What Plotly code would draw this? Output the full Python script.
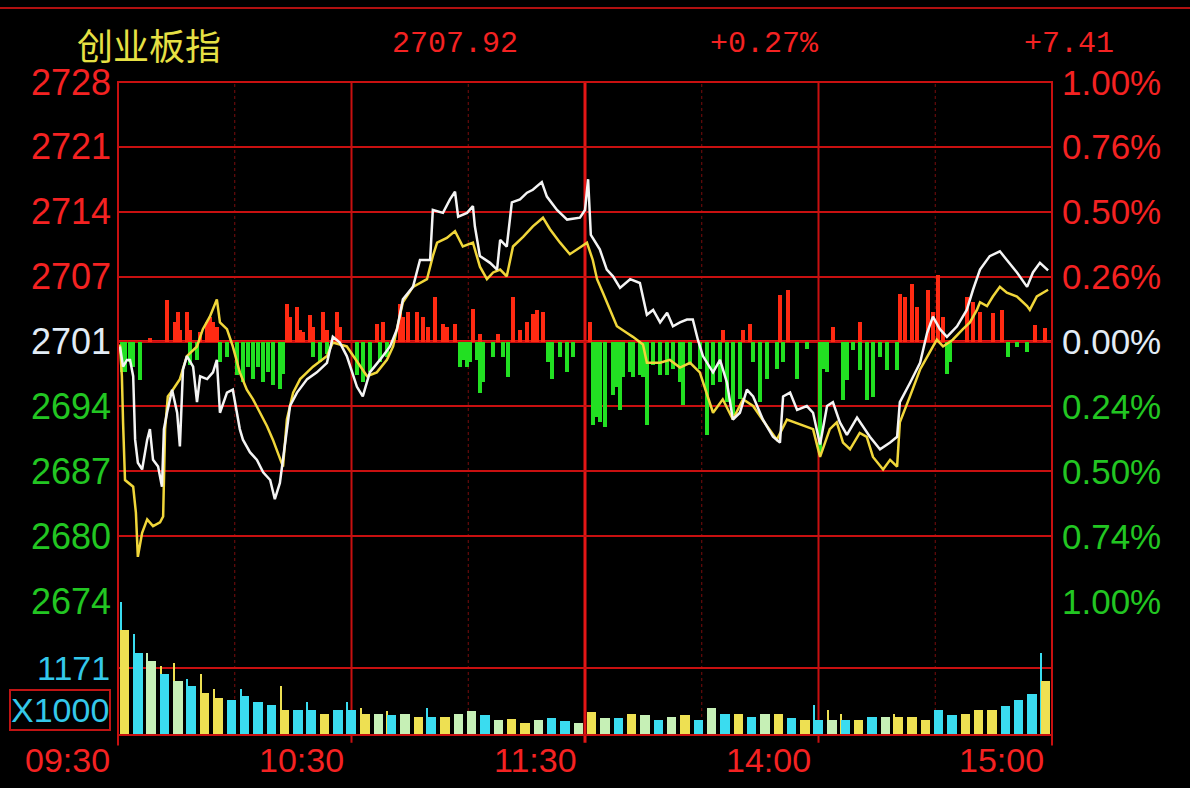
import plotly.graph_objects as go

# ---------------- data ----------------
title_name = "创业板指"
last_price = 2707.92
pct_change = "+0.27%"
abs_change = "+7.41"
prev_close = 2700.51

price_levels = [2727.52, 2720.76, 2714.01, 2707.26, 2700.51, 2693.76, 2687.01, 2680.26, 2673.51]
price_labels = ["2728", "2721", "2714", "2707", "2701", "2694", "2687", "2680", "2674"]
pct_labels = ["1.00%", "0.76%", "0.50%", "0.26%", "0.00%", "0.24%", "0.50%", "0.74%", "1.00%"]

time_ticks = [0, 60, 120, 180, 240]
time_labels = ["09:30", "10:30", "11:30", "14:00", "15:00"]
half_hours = [30, 90, 150, 210]

vol_max = 2342
vol_label = "1171"

# white line: index (minutes since open, price)
white_t = [0.5, 1.3, 2.3, 3.1, 3.9, 4.4, 5.1, 6.2, 7.5, 8.2,
           9.0, 10.3, 11.3, 11.8, 12.6, 13.9, 15.2, 15.9, 16.7, 17.7,
           19.3, 20.3, 21.1, 22.9, 24.4, 25.4, 26.2, 28.0, 29.5, 30.6,
           31.3, 32.1, 33.9, 35.7, 37.3, 39.1, 40.3, 41.6, 42.9, 44.2,
           46.0, 48.6, 51.1, 53.7, 55.2, 57.0, 58.8, 61.4, 62.9, 64.7,
           67.3, 69.9, 71.7, 73.2, 75.8, 77.6, 80.2, 80.9, 83.5, 85.3,
           86.6, 87.4, 89.7, 91.2, 91.7, 93.0, 95.6, 97.4, 98.2, 99.9,
           101.2, 103.3, 105.1, 106.6, 108.9, 110.2, 112.8, 115.4, 118.7, 120.0,
           120.8, 121.5, 123.8, 125.6, 127.2, 129.0, 131.6, 134.1, 135.9, 137.5,
           139.3, 141.1, 142.6, 144.4, 146.2, 147.7, 149.0, 150.3, 152.9, 154.7,
           156.5, 158.0, 159.8, 161.6, 163.2, 165.7, 168.3, 170.1, 170.9, 172.7,
           174.5, 177.0, 178.6, 180.4, 182.2, 183.7, 185.5, 187.3, 189.9, 191.4,
           193.2, 195.8, 198.4, 200.2, 200.9, 203.5, 206.1, 207.9, 209.4, 211.2,
           213.0, 215.6, 218.1, 219.7, 221.5, 224.0, 226.6, 228.4, 231.0, 233.6,
           235.1, 236.9, 239.0]
white_p = [2700.0, 2697.9, 2698.6, 2698.6, 2696.9, 2690.3, 2687.9, 2687.2, 2690.3, 2691.4,
           2688.2, 2687.5, 2685.4, 2691.4, 2693.1, 2695.5, 2693.1, 2689.6, 2697.6, 2699.0,
           2697.9, 2694.2, 2696.9, 2696.6, 2697.3, 2698.6, 2693.1, 2695.2, 2695.5, 2693.1,
           2691.4, 2690.3, 2689.0, 2688.2, 2686.9, 2686.1, 2684.1, 2685.8, 2689.6, 2693.8,
           2695.2, 2696.6, 2697.3, 2698.3, 2701.0, 2700.4, 2699.0, 2695.8, 2694.8, 2697.3,
           2698.6, 2700.0, 2701.8, 2704.9, 2706.2, 2709.0, 2709.0, 2714.2, 2713.9, 2715.3,
           2716.1, 2713.5, 2713.9, 2714.6, 2712.5, 2709.4, 2708.7, 2708.0, 2711.1, 2710.4,
           2715.0, 2715.3, 2716.0, 2716.3, 2717.1, 2715.6, 2714.2, 2713.2, 2713.4, 2714.2,
           2717.4, 2711.6, 2710.1, 2708.0, 2707.3, 2706.1, 2707.0, 2706.6, 2703.3, 2703.8,
           2702.5, 2703.5, 2702.1, 2702.5, 2702.8, 2702.8, 2700.7, 2699.0, 2697.3, 2698.6,
           2696.2, 2692.4, 2693.1, 2695.5, 2694.8, 2692.4, 2690.6, 2690.0, 2694.8, 2695.2,
           2693.4, 2693.8, 2693.1, 2689.8, 2693.8, 2694.2, 2692.1, 2690.8, 2692.6, 2691.7,
           2690.6, 2689.3, 2690.0, 2690.6, 2694.2, 2696.2, 2698.3, 2701.4, 2703.1, 2701.8,
           2701.0, 2702.1, 2703.8, 2705.9, 2708.0, 2709.4, 2709.9, 2709.0, 2707.7, 2706.2,
           2707.7, 2708.7, 2707.92]

# yellow line
yellow_t = [0.5, 1.0, 1.3, 1.8, 3.9, 4.6, 5.1, 6.2, 7.5, 9.0,
            10.8, 11.6, 12.1, 12.8, 14.1, 15.9, 17.7, 20.3, 21.8, 23.6,
            25.4, 26.2, 28.0, 29.5, 31.3, 33.1, 34.7, 36.5, 38.3, 39.8,
            41.6, 42.4, 43.4, 45.0, 46.8, 50.1, 53.7, 55.2, 58.8, 62.2,
            64.0, 66.5, 69.1, 70.7, 73.2, 75.8, 79.4, 80.9, 82.0, 84.5,
            86.6, 88.6, 91.2, 93.0, 94.8, 96.4, 98.2, 99.9, 101.5, 104.1,
            106.6, 109.2, 111.0, 113.6, 116.1, 118.7, 120.5, 122.0, 123.1, 124.6,
            126.4, 128.2, 130.8, 132.3, 134.9, 135.9, 139.3, 141.8, 144.4, 147.0,
            149.5, 151.3, 152.9, 155.4, 158.0, 160.6, 163.2, 166.8, 169.3, 171.9,
            175.2, 178.6, 180.4, 182.9, 184.7, 186.3, 188.1, 190.6, 192.4, 194.0,
            196.6, 198.4, 200.2, 200.9, 203.5, 206.1, 208.6, 210.4, 212.0, 214.5,
            217.1, 218.9, 220.7, 221.5, 223.3, 224.8, 226.6, 228.4, 231.0, 233.6,
            234.3, 236.1, 239.0]
yellow_p = [2700.2, 2696.9, 2692.1, 2686.1, 2685.4, 2682.7, 2678.1, 2680.6, 2682.0, 2681.3,
            2681.7, 2682.3, 2691.4, 2694.8, 2695.5, 2696.6, 2699.0, 2700.0, 2701.8, 2703.1,
            2704.9, 2702.5, 2701.8, 2700.0, 2697.3, 2695.5, 2694.5, 2693.1, 2691.7, 2690.3,
            2688.5, 2687.5, 2692.4, 2695.2, 2696.6, 2697.9, 2699.0, 2700.4, 2700.0, 2697.9,
            2696.9, 2697.3, 2698.6, 2700.0, 2704.6, 2706.2, 2707.0, 2709.4, 2710.8, 2711.3,
            2712.0, 2710.4, 2710.8, 2708.3, 2707.0, 2707.7, 2708.0, 2707.3, 2710.4, 2711.4,
            2712.5, 2713.4, 2712.2, 2710.8, 2709.6, 2710.3, 2710.8, 2709.0, 2707.0, 2705.6,
            2703.8, 2702.1, 2701.4, 2701.0, 2700.2, 2698.3, 2698.3, 2698.6, 2697.8, 2698.3,
            2697.3, 2695.2, 2693.1, 2694.5, 2692.4, 2694.5, 2693.8, 2691.7, 2690.3, 2692.4,
            2691.9, 2691.4, 2688.5, 2691.4, 2692.1, 2690.0, 2689.3, 2691.0, 2690.6, 2688.5,
            2687.2, 2688.2, 2687.5, 2692.1, 2694.8, 2697.6, 2699.4, 2700.7, 2700.0, 2700.7,
            2701.8, 2702.5, 2703.8, 2704.6, 2704.2, 2705.2, 2706.2, 2705.6, 2705.2, 2704.2,
            2703.8, 2705.2, 2705.9]

# red / green breadth bars (arbitrary units)
up_t = [8.2, 12.6, 14.6, 15.4, 15.9, 17.7, 18.5, 21.0, 22.9, 23.6,
        24.4, 25.4, 43.4, 44.2, 46.0, 46.8, 47.5, 49.3, 50.1, 52.7,
        53.7, 56.3, 57.0, 66.5, 68.1, 72.5, 73.2, 74.5, 76.8, 78.4,
        79.6, 81.4, 83.5, 84.5, 86.6, 91.2, 93.0, 97.6, 101.5, 103.3,
        105.1, 106.6, 107.7, 109.2, 121.3, 155.4, 160.6, 162.4, 170.1, 172.1,
        183.7, 190.6, 200.9, 202.2, 204.0, 205.3, 208.1, 209.4, 210.7, 212.0,
        218.1, 219.7, 221.5, 224.8, 227.1, 235.6, 238.2]
up_v = [4, 42, 20, 30, 12, 30, 12, 10, 20, 25,
        20, 15, 38, 25, 35, 12, 10, 27, 15, 30,
        12, 30, 15, 18, 20, 38, 25, 30, 30, 25,
        15, 45, 18, 15, 18, 33, 8, 8, 45, 12,
        20, 28, 32, 30, 20, 12, 12, 18, 47, 52,
        15, 20, 48, 45, 58, 35, 52, 30, 67, 25,
        45, 40, 30, 29, 32, 17, 14]
dn_t = [1.0, 1.8, 3.1, 3.9, 5.7, 18.5, 20.3, 26.2, 28.0, 30.6,
        32.1, 33.4, 34.7, 36.0, 37.3, 38.5, 39.8, 41.6, 42.4, 50.1,
        51.9, 53.7, 61.4, 62.9, 64.7, 67.3, 69.1, 87.9, 88.6, 89.7,
        90.4, 92.2, 93.0, 93.8, 96.4, 98.9, 100.2, 110.5, 111.5, 113.6,
        115.4, 116.9, 122.0, 123.1, 123.8, 125.1, 127.2, 128.2, 129.0, 129.8,
        131.6, 132.3, 134.1, 134.9, 135.9, 137.5, 139.3, 141.1, 142.6, 144.4,
        145.2, 147.0, 149.5, 151.3, 152.9, 154.7, 156.5, 158.0, 159.8, 163.2,
        164.9, 166.7, 169.3, 170.9, 174.5, 177.1, 180.4, 181.1, 182.2, 186.3,
        187.3, 188.8, 190.6, 192.4, 194.0, 195.8, 197.6, 200.2, 213.0, 213.8,
        228.7, 231.0, 233.6]
dn_v = [-30, -30, -20, -25, -38, -23, -18, -20, -15, -33,
        -40, -25, -37, -25, -40, -30, -43, -47, -32, -15,
        -20, -12, -33, -40, -30, -20, -15, -25, -18, -25,
        -20, -18, -51, -40, -15, -15, -35, -20, -37, -15,
        -30, -15, -83, -75, -80, -85, -53, -45, -68, -35,
        -30, -35, -33, -35, -83, -23, -33, -33, -27, -40,
        -63, -23, -27, -93, -43, -40, -60, -73, -57, -20,
        -60, -37, -27, -20, -37, -7, -113, -27, -30, -58,
        -38, -8, -28, -58, -55, -15, -28, -28, -32, -20,
        -15, -5, -10]

# volume (x1000), 70 bars across the session
vol = [1830, 1440, 1300, 1060, 940, 850, 730, 640, 620, 675,
       585, 530, 445, 445, 445, 375, 445, 445, 375, 375,
       355, 375, 320, 320, 320, 375, 425, 355, 265, 285,
       215, 265, 300, 250, 215, 410, 300, 300, 375, 355,
       265, 320, 355, 265, 480, 375, 375, 320, 375, 375,
       300, 265, 265, 265, 265, 265, 320, 320, 320, 320,
       265, 445, 355, 375, 445, 445, 500, 620, 710, 940]
vol_spike = [2320, 1770, 1440, 1200, 1260, 975, 1060, 800, 0, 800,
             0, 0, 850, 0, 585, 0, 0, 585, 480, 0,
             425, 0, 0, 480, 0, 0, 0, 0, 0, 0,
             0, 0, 0, 0, 0, 0, 0, 0, 0, 0,
             0, 0, 0, 0, 0, 0, 0, 0, 0, 0,
             0, 0, 530, 445, 375, 0, 0, 0, 375, 0,
             0, 0, 0, 0, 0, 0, 0, 0, 0, 1440]
vol_col = ("YCGCGCYYCC" "CCYCCYCCYG" "CGYCYGGCGY" "YGCCGYGCYG"
           "CGYCGCYCGY" "CYCGCYCGYY" "YCCYYYCCCY")
spike_col = ("CCGYYCYYCC" "CCYCCYCCYG" "YGYCYGGCGY" "YGCCGYGCYG"
             "CGYCGCYCGY" "CYCYYYCGYY" "YCCYYYCCCC")

# ---------------- style ----------------
BG = "#000000"
RED = "#f42222"
GRID = "#c81010"
GREEN = "#22c622"
WHITE = "#e2ecf6"
CYAN = "#34c8ea"
YEL = "#e6e044"
palette = {"C": "#3adcf0", "Y": "#eee052", "G": "#c6f0b6"}
label_cols = [RED] * 4 + [WHITE] + [GREEN] * 4
NUMFONT = "Liberation Sans, Arial, sans-serif"
MONO = "Liberation Mono, DejaVu Sans Mono, monospace"

PRICE_DOM = [0.2052, 1.0]
VOL_DOM = [0.0, 0.2052]

n_slots = len(vol)
slot = 240.0 / n_slots
vol_t = [(k + 0.5) * slot for k in range(n_slots)]
spike_t = [t - 0.3 * slot for t in vol_t]

fig = go.Figure()

# breadth bars (primary y, drawn underneath the price lines)
fig.add_trace(go.Bar(x=up_t, y=up_v, width=1.0, marker=dict(color="#ff2a12", line=dict(width=0)),
                     xaxis="x", yaxis="y", showlegend=False, hoverinfo="skip"))
fig.add_trace(go.Bar(x=dn_t, y=dn_v, width=1.0, marker=dict(color="#22e022", line=dict(width=0)),
                     xaxis="x", yaxis="y", showlegend=False, hoverinfo="skip"))

# volume
fig.add_trace(go.Bar(x=spike_t, y=vol_spike, width=0.1 * slot,
                     marker=dict(color=[palette[c] for c in spike_col], line=dict(width=0)),
                     xaxis="x", yaxis="y2", showlegend=False, hoverinfo="skip"))
fig.add_trace(go.Bar(x=vol_t, y=vol, width=0.7 * slot,
                     marker=dict(color=[palette[c] for c in vol_col], line=dict(width=0)),
                     xaxis="x", yaxis="y2", showlegend=False, hoverinfo="skip"))

# price lines (overlay axis, on top)
fig.add_trace(go.Scatter(x=yellow_t, y=yellow_p, mode="lines", line=dict(color="#f0d63a", width=2.5),
                         xaxis="x", yaxis="y3", showlegend=False, hoverinfo="skip"))
fig.add_trace(go.Scatter(x=white_t, y=white_p, mode="lines", line=dict(color="#f4f4f4", width=2.5),
                         xaxis="x", yaxis="y3", showlegend=False, hoverinfo="skip"))

shapes = []
for t in half_hours:
    shapes.append(dict(type="line", xref="x", yref="paper", x0=t, x1=t, y0=0, y1=1,
                       line=dict(color="#7a0c0c", width=1, dash="dot"), layer="below"))
for t in time_ticks[1:-1]:
    shapes.append(dict(type="line", xref="x", yref="paper", x0=t, x1=t, y0=-0.012, y1=1,
                       line=dict(color="#e41616" if t == 120 else GRID, width=3 if t == 120 else 2),
                       layer="below"))
shapes.append(dict(type="line", xref="paper", yref="y3", x0=0, x1=1, y0=prev_close, y1=prev_close,
                   line=dict(color="#e41616", width=3), layer="below"))
shapes.append(dict(type="rect", xref="paper", yref="paper", x0=0, x1=1, y0=0, y1=1,
                   line=dict(color=GRID, width=2), layer="above"))
for xp in [0, 1]:
    shapes.append(dict(type="line", xref="paper", yref="paper", x0=xp, x1=xp, y0=-0.016, y1=0,
                       line=dict(color=GRID, width=2)))
shapes.append(dict(type="line", xref="paper", yref="paper", x0=-0.14, x1=1.16, y0=1.1133, y1=1.1133,
                   line=dict(color="#b01010", width=2)))

ann = []
for lv, lab, pl, col in zip(price_levels, price_labels, pct_labels, label_cols):
    ann.append(dict(x=0, xref="paper", y=lv, yref="y3", text=lab, showarrow=False,
                    xanchor="right", yanchor="middle", xshift=-5,
                    font=dict(family=NUMFONT, size=36, color=col)))
    ann.append(dict(x=1, xref="paper", y=lv, yref="y3", text=pl, showarrow=False,
                    xanchor="left", yanchor="middle", xshift=8,
                    font=dict(family=NUMFONT, size=35, color=col)))
for t, lab in zip(time_ticks, time_labels):
    ann.append(dict(x=t, xref="x", y=-0.038, yref="paper", text=lab, showarrow=False,
                    xanchor="right", yanchor="middle", xshift=-6,
                    font=dict(family=NUMFONT, size=34, color=RED)))
ann.append(dict(x=0, xref="paper", y=vol_max / 2, yref="y2", text=vol_label, showarrow=False,
                xanchor="right", yanchor="middle", xshift=-6,
                font=dict(family=NUMFONT, size=34, color=CYAN)))
ann.append(dict(x=-0.0626, xref="paper", y=0.038, yref="paper", text="X1000", showarrow=False,
                xanchor="center", yanchor="middle", bordercolor="#c01414", borderwidth=2, borderpad=0,
                font=dict(family=NUMFONT, size=34, color=CYAN)))
# header row
ann.append(dict(x=-0.046, xref="paper", y=1.058, yref="paper", text=title_name, showarrow=False,
                xanchor="left", yanchor="middle",
                font=dict(family="Noto Sans CJK SC", size=36, color=YEL)))
ann.append(dict(x=0.2912, xref="paper", y=1.058, yref="paper", text=f"{last_price:.2f}", showarrow=False,
                xanchor="left", yanchor="middle", font=dict(family=MONO, size=30, color=RED)))
ann.append(dict(x=0.6317, xref="paper", y=1.058, yref="paper", text=pct_change, showarrow=False,
                xanchor="left", yanchor="middle", font=dict(family=MONO, size=30, color=RED)))
ann.append(dict(x=0.9679, xref="paper", y=1.058, yref="paper", text=abs_change, showarrow=False,
                xanchor="left", yanchor="middle", font=dict(family=MONO, size=30, color=RED)))

fig.update_layout(
    width=1190, height=788,
    margin=dict(l=118, r=138, t=82, b=53),
    paper_bgcolor=BG, plot_bgcolor=BG,
    barmode="overlay", bargap=0,
    showlegend=False,
    xaxis=dict(range=[0, 240], domain=[0, 1], anchor="y", showgrid=False, zeroline=False,
               showticklabels=False, ticks="", showline=False, fixedrange=True),
    yaxis=dict(domain=PRICE_DOM, range=[-259.5, 259.5], anchor="x", visible=False,
               showgrid=False, zeroline=False, fixedrange=True),
    yaxis3=dict(overlaying="y", anchor="x", range=[price_levels[-1], price_levels[0]],
                tickvals=price_levels, showgrid=True, gridcolor=GRID, gridwidth=2,
                showticklabels=False, ticks="", zeroline=False, showline=False, fixedrange=True),
    yaxis2=dict(domain=VOL_DOM, anchor="x", range=[0, vol_max], tickvals=[vol_max / 2],
                showgrid=True, gridcolor=GRID, gridwidth=2, showticklabels=False, ticks="",
                zeroline=False, showline=False, fixedrange=True),
    shapes=shapes,
    annotations=ann,
)

fig.write_html("out.html", config={"displayModeBar": False},
               post_script="document.body.style.margin='0';document.body.style.background='#000';")
